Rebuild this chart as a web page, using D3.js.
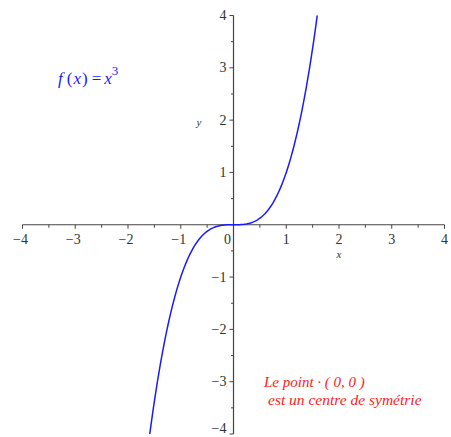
<!DOCTYPE html>
<html>
<head>
<meta charset="utf-8">
<script src="https://cdn.jsdelivr.net/npm/d3@7"></script>
<style>
  html, body { margin: 0; padding: 0; background: #fff; }
  svg { display: block; }
</style>
</head>
<body>
<svg id="chart" width="451" height="437"></svg>
<script>
// Plot window and ticks
const xDomain = [-4, 4];
const yDomain = [-4, 4];
const xTickValues = [-4, -3, -2, -1, 0, 1, 2, 3, 4];
const yTickValues = [-4, -3, -2, -1, 1, 2, 3, 4];
const minorTickValues = [-3.5, -2.5, -1.5, -0.5, 0.5, 1.5, 2.5, 3.5];

// The plotted function, as written in the title: f(x) = x^3
const exponent = 3;
const f = x => Math.pow(x, exponent);
const sampleCount = 400;

const noteLines = ["Le point \u00b7 ( 0, 0 )", "est un centre de sym\u00e9trie"];

const serif = "Liberation Serif";

const svg = d3.select("#chart");
const x = d3.scaleLinear().domain(xDomain).range([22.5, 444.5]);
const y = d3.scaleLinear().domain(yDomain).range([434, 15.5]);

const axisColor = "#444";
const labelColor = "#333";
const x0 = x(0), y0 = y(0);

// x axis
const gx = svg.append("g");
gx.append("line").attr("x1", x(xDomain[0])).attr("x2", x(xDomain[1]))
  .attr("y1", y0).attr("y2", y0).attr("stroke", axisColor).attr("stroke-width", 1.2);
gx.selectAll("line.major").data(xTickValues.filter(d => d !== 0)).join("line")
  .attr("class", "major")
  .attr("x1", d => x(d)).attr("x2", d => x(d))
  .attr("y1", y0).attr("y2", y0 + 4).attr("stroke", axisColor);
gx.selectAll("line.minor").data(minorTickValues).join("line")
  .attr("class", "minor")
  .attr("x1", d => x(d)).attr("x2", d => x(d))
  .attr("y1", y0).attr("y2", y0 + 3).attr("stroke", axisColor);
gx.selectAll("text").data(xTickValues).join("text")
  .attr("x", d => d === 0 ? x(d) - 6 : x(d) + (d < 0 ? -2 : 0))
  .attr("y", y0 + 19)
  .attr("text-anchor", "middle")
  .style("font-family", serif)
  .attr("font-size", 14)
  .attr("fill", labelColor)
  .text(d => d < 0 ? "\u2212" + Math.abs(d) : d);
gx.append("text").attr("x", x(2)).attr("y", y0 + 33)
  .attr("text-anchor", "middle").style("font-family", serif)
  .attr("font-size", 11).attr("font-style", "italic")
  .attr("fill", labelColor).text("x");

// y axis
const gy = svg.append("g");
gy.append("line").attr("x1", x0).attr("x2", x0)
  .attr("y1", y(yDomain[0])).attr("y2", y(yDomain[1]))
  .attr("stroke", axisColor).attr("stroke-width", 1.2);
gy.selectAll("line.major").data(yTickValues).join("line")
  .attr("class", "major")
  .attr("x1", x0 - 4).attr("x2", x0)
  .attr("y1", d => y(d)).attr("y2", d => y(d)).attr("stroke", axisColor);
gy.selectAll("line.minor").data(minorTickValues).join("line")
  .attr("class", "minor")
  .attr("x1", x0 - 2.5).attr("x2", x0)
  .attr("y1", d => y(d)).attr("y2", d => y(d)).attr("stroke", axisColor);
gy.selectAll("text").data(yTickValues).join("text")
  .attr("x", x0 - 7)
  .attr("y", d => Math.min(y(d) + 4.5, 433))
  .attr("text-anchor", "end")
  .style("font-family", serif)
  .attr("font-size", 14)
  .attr("fill", labelColor)
  .text(d => d < 0 ? "\u2212" + Math.abs(d) : d);
gy.append("text").attr("x", 199).attr("y", y(2) + 6)
  .attr("text-anchor", "middle").style("font-family", serif)
  .attr("font-size", 11).attr("font-style", "italic")
  .attr("fill", labelColor).text("y");

// Curve, clipped to the plot window
svg.append("clipPath").attr("id", "plotClip").append("rect")
  .attr("x", x(xDomain[0])).attr("y", y(yDomain[1]))
  .attr("width", x(xDomain[1]) - x(xDomain[0]))
  .attr("height", y(yDomain[0]) - y(yDomain[1]));
const xs = d3.range(sampleCount + 1).map(i => xDomain[0] + (xDomain[1] - xDomain[0]) * i / sampleCount);
const line = d3.line().x(d => x(d)).y(d => y(Math.max(-5, Math.min(5, f(d)))));
svg.append("path").datum(xs)
  .attr("clip-path", "url(#plotClip)")
  .attr("d", line)
  .attr("fill", "none").attr("stroke", "#1a1aff").attr("stroke-width", 1.5);

// Title f(x) = x^3
const title = svg.append("text").attr("x", 58).attr("y", 84)
  .style("font-family", serif)
  .attr("font-size", 17).attr("font-style", "italic").attr("fill", "#1a1aff");
title.append("tspan").text("f");
title.append("tspan").attr("font-style", "normal").attr("dx", 4).text("(");
title.append("tspan").attr("dx", 1).text("x");
title.append("tspan").attr("font-style", "normal").attr("dx", 1).text(")");
title.append("tspan").attr("font-style", "normal").attr("dx", 4).text("=");
title.append("tspan").attr("dx", 3).text("x");
title.append("tspan").attr("font-size", 13).attr("font-style", "normal")
  .attr("dy", -9).text(exponent);

// Note in red
svg.append("text").attr("x", 264).attr("y", 387)
  .style("font-family", serif)
  .attr("font-size", 15).attr("font-style", "italic").attr("fill", "#ff1a1a")
  .text(noteLines[0]);
svg.append("text").attr("x", 268).attr("y", 405)
  .style("font-family", serif)
  .attr("font-size", 15.5).attr("font-style", "italic").attr("fill", "#ff1a1a")
  .text(noteLines[1]);
</script>
</body>
</html>
